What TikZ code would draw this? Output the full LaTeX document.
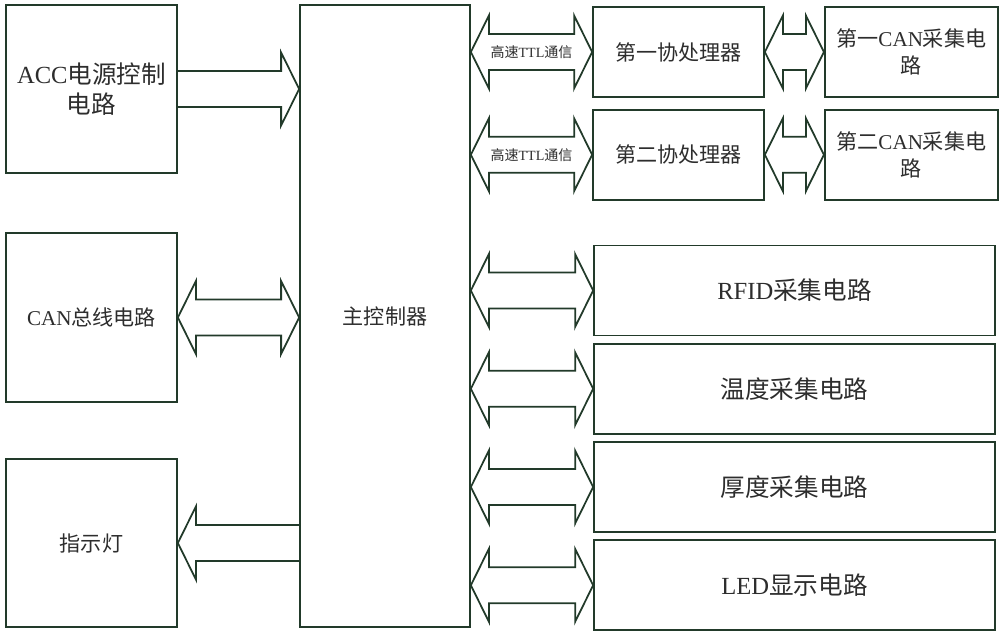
\documentclass[tikz,border=0pt]{standalone}
\usepackage{fontspec}
\setmainfont{Noto Sans CJK SC}
\newfontfamily\enfont{Liberation Serif}
\usepackage{tikz}
\usetikzlibrary{positioning,calc}

\definecolor{linegreen}{RGB}{34,58,42}
\definecolor{textgray}{RGB}{45,45,45}

\newcommand{\en}[1]{{\enfont #1}}
\newcommand{\ahl}{0.36cm}
\newcommand{\ahh}{0.73cm}
\newcommand{\ash}{0.36cm}

% block arrow with two heads, #1 left tip, #2 right tip
\newcommand{\dblarrow}[2]{%
  \draw[blockarrow] let \p1=#1, \p2=#2 in
    (\x1,\y1) -- (\x1+\ahl,\y1+\ahh) -- (\x1+\ahl,\y1+\ash) -- (\x2-\ahl,\y1+\ash)
    -- (\x2-\ahl,\y1+\ahh) -- (\x2,\y1) -- (\x2-\ahl,\y1-\ahh) -- (\x2-\ahl,\y1-\ash)
    -- (\x1+\ahl,\y1-\ash) -- (\x1+\ahl,\y1-\ahh) -- cycle;}
% block arrow pointing right, #1 tail, #2 tip
\newcommand{\rarrow}[2]{%
  \draw[blockarrow] let \p1=#1, \p2=#2 in
    (\x1,\y1+\ash) -- (\x2-\ahl,\y1+\ash) -- (\x2-\ahl,\y1+\ahh) -- (\x2,\y1)
    -- (\x2-\ahl,\y1-\ahh) -- (\x2-\ahl,\y1-\ash) -- (\x1,\y1-\ash);}
% block arrow pointing left, #1 tail, #2 tip
\newcommand{\larrow}[2]{%
  \draw[blockarrow] let \p1=#1, \p2=#2 in
    (\x1,\y1+\ash) -- (\x2+\ahl,\y1+\ash) -- (\x2+\ahl,\y1+\ahh) -- (\x2,\y1)
    -- (\x2+\ahl,\y1-\ahh) -- (\x2+\ahl,\y1-\ash) -- (\x1,\y1-\ash);}

\tikzset{
  box/.style={draw=linegreen, line width=1pt, text=textgray, align=center,
    inner sep=0pt, minimum width=3.42cm, minimum height=1.80cm,
    font=\fontsize{12}{15}\selectfont},
  bigbox/.style={box, minimum height=3.37cm},
  widebox/.style={box, minimum width=8.02cm, font=\fontsize{14}{17}\selectfont},
  blockarrow/.style={draw=linegreen, line width=1pt, line join=miter},
  ttl/.style={text=textgray, inner sep=0pt, font=\fontsize{8}{10}\selectfont},
}

\begin{document}
\begin{tikzpicture}
\useasboundingbox (0,0) rectangle (20.04,-12.68);

% left column
\node[bigbox, font=\fontsize{14}{17}\selectfont] (acc) at (1.83,-1.78) {\en{ACC}电源控制\\电路};
\node[bigbox] (canbus) at (1.83,-6.35) {\en{CAN}总线电路};
\node[bigbox] (lamp) at (1.83,-10.86) {指示灯};

% main controller
\node[box, minimum width=3.40cm, minimum height=12.44cm] (main) at (7.70,-6.32) {主控制器};

% coprocessors
\node[box] (cop1) at (13.57,-1.04) {第一协处理器};
\node[box, below=0.22cm of cop1] (cop2) {第二协处理器};
\node[box, minimum width=3.46cm, right=1.18cm of cop1] (cancol1) {第一\en{CAN}采集电\\路};
\node[box, minimum width=3.46cm, right=1.18cm of cop2] (cancol2) {第二\en{CAN}采集电\\路};

% acquisition circuits
\node[widebox] (rfid) at (15.89,-5.81) {\en{RFID}采集电路};
\node[widebox, below=0.13cm of rfid] (temp) {温度采集电路};
\node[widebox, below=0.13cm of temp] (thick) {厚度采集电路};
\node[widebox, below=0.13cm of thick] (disp) {\en{LED}显示电路};

% arrows
\rarrow{(acc.east)}{(main.west |- acc.east)}
\dblarrow{(canbus.east)}{(main.west |- canbus.east)}
\larrow{(main.west |- lamp.east)}{(lamp.east)}

\dblarrow{(main.east |- cop1.west)}{(cop1.west)}
\dblarrow{(main.east |- cop2.west)}{(cop2.west)}
\node[ttl] (ttl1) at ($(main.east |- cop1.west)!0.5!(cop1.west)$) {高速\en{TTL}通信};
\node[ttl] (ttl2) at ($(main.east |- cop2.west)!0.5!(cop2.west)$) {高速\en{TTL}通信};

\dblarrow{(cop1.east)}{(cancol1.west)}
\dblarrow{(cop2.east)}{(cancol2.west)}

\foreach \blk in {rfid,temp,thick,disp}{
  \dblarrow{(main.east |- \blk.west)}{(\blk.west)}
}
\end{tikzpicture}
\end{document}
